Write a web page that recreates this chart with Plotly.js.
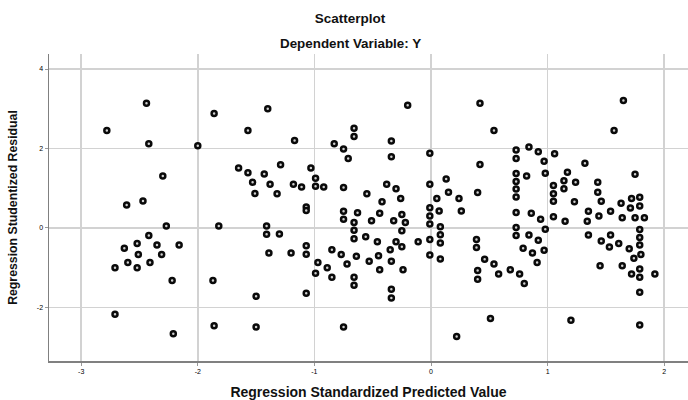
<!DOCTYPE html>
<html>
<head>
<meta charset="utf-8">
<script src="https://cdn.plot.ly/plotly-3.0.1.min.js"></script>
<style>html,body{margin:0;padding:0;background:#fff;}#chart{width:688px;height:400px;}</style>
</head>
<body>
<div id="chart"></div>
<script>
// Regression standardized predicted values (x) and studentized residuals (y)
const predicted = [
  -2.44,-2.78,-2.42,-2.00,-1.86,-1.57,-1.40,-2.30,-2.61,-2.47,-1.65,-1.57,-1.43,-1.53,-1.38,-1.51,
  -2.27,-1.82,-1.41,-1.41,-1.39,-2.42,-2.63,-2.52,-2.35,-2.16,-2.51,-2.31,-2.60,-2.41,-2.71,-2.52,-2.22,-1.87,-1.50,-2.71,-2.21,-1.86,-1.50,
  -1.17,-0.83,-0.75,-0.71,-0.66,-0.66,-0.20,-0.34,-0.34,-0.01,0.42,-1.29,-1.32,-1.18,-1.11,-1.03,-0.99,-0.99,-0.92,-0.75,-1.07,-1.07,
  -0.55,-0.38,-0.30,-0.26,-0.42,-0.01,0.13,0.15,0.05,0.24,0.40,-0.75,-0.63,-0.44,-0.25,-0.01,0.07,0.26,0.42,
  -0.75,-1.30,-1.20,-1.07,-1.07,-1.07,-0.66,-0.66,-0.66,-0.51,-0.56,-0.32,-0.22,-0.25,-0.46,-0.30,-0.25,-0.11,-0.01,-0.01,-0.01,-0.01,
  0.08,0.08,0.08,0.08,-0.85,-0.77,-0.64,-0.35,-0.45,-0.53,-0.34,-0.97,-0.72,-0.89,-0.99,-0.85,-0.66,-0.66,-0.44,-0.24,-0.34,-0.34,
  -0.75,0.22,0.39,0.39,0.40,0.40,
  0.54,1.65,1.57,0.73,0.73,0.84,0.92,1.06,0.97,0.98,1.32,0.73,0.82,0.73,0.73,0.73,0.73,0.86,1.17,1.14,1.14,1.24,1.05,1.05,1.05,1.23,
  1.43,1.43,1.46,1.75,1.72,1.79,1.71,1.79,1.63,1.54,1.35,
  0.94,1.05,1.15,1.34,1.44,1.64,1.75,1.83,0.73,0.73,0.98,0.84,0.92,0.79,0.87,0.97,0.91,0.46,0.54,0.58,0.68,0.76,0.80,
  1.35,1.46,1.54,1.53,1.61,1.70,1.74,1.79,1.79,1.79,1.80,1.45,1.64,1.72,1.79,1.79,1.92,1.79,0.51,1.20,1.79
];
const residual = [
  3.14,2.45,2.12,2.07,2.88,2.45,3.00,1.31,0.58,0.68,1.51,1.39,1.36,1.15,1.10,0.87,
  0.05,0.05,0.05,-0.16,-0.63,-0.19,-0.51,-0.39,-0.43,-0.43,-0.67,-0.67,-0.87,-0.87,-1.00,-1.00,-1.32,-1.32,-1.72,-2.17,-2.66,-2.46,-2.49,
  2.20,2.12,1.99,1.75,2.51,2.30,3.09,2.19,1.79,1.88,3.14,1.59,0.86,1.10,1.03,1.51,1.25,1.05,1.03,1.02,0.53,0.44,
  0.86,1.10,0.99,0.74,0.66,1.10,1.23,0.90,0.74,0.74,0.89,0.42,0.38,0.37,0.34,0.51,0.43,0.43,1.60,
  0.22,-0.15,-0.63,-0.45,-0.66,-1.64,0.14,-0.06,-0.27,0.18,-0.22,0.18,0.14,-0.07,-0.35,-0.35,-0.47,-0.35,0.30,0.10,-0.29,-0.68,
  0.03,-0.17,-0.38,-0.78,-0.55,-0.67,-0.71,-0.55,-0.70,-0.84,-0.84,-0.87,-0.91,-1.00,-1.14,-1.24,-1.24,-1.44,-1.05,-1.05,-1.54,-1.76,
  -2.49,-2.73,-0.29,-0.49,-1.07,-1.29,
  2.45,3.21,2.45,1.96,1.75,2.04,1.92,1.87,1.68,1.38,1.63,1.37,1.31,1.17,0.98,0.78,0.39,0.37,1.40,1.19,0.99,1.15,1.07,0.86,0.67,0.66,
  1.15,0.90,0.67,1.35,0.74,0.77,0.50,0.55,0.62,0.42,0.42,
  0.22,0.28,0.17,0.17,0.30,0.26,0.26,0.26,0.01,-0.19,-0.03,-0.18,-0.31,-0.51,-0.63,-0.56,-0.87,-0.79,-0.91,-1.16,-1.05,-1.16,-1.40,
  -0.18,-0.33,-0.18,-0.48,-0.39,-0.52,-0.76,-0.04,-0.24,-0.43,-0.67,-0.95,-0.95,-1.16,-1.03,-1.24,-1.16,-1.62,-2.28,-2.32,-2.44
];
const xTicks = [-3,-2,-1,0,1,2];
const xTickLabels = ['-3','-2','-1','0','1','2'];
const yTicks = [-2,0,2,4];
const yTickLabels = ['-2','0','2','4'];

const trace = {
  type: 'scatter', mode: 'markers',
  x: predicted, y: residual,
  marker: {symbol: 'circle', size: 5, color: '#d0d0d0', line: {color: '#0a0a0a', width: 2.5}},
  hoverinfo: 'x+y', showlegend: false
};

const font = 'Liberation Sans, Arial, sans-serif';
const layout = {
  width: 688, height: 400,
  margin: {l: 49, r: 0, t: 54, b: 39, pad: 0},
  paper_bgcolor: '#fff', plot_bgcolor: '#fff',
  font: {family: font, color: '#222'},
  title: {text: '<b>Scatterplot</b>', font: {family: font, size: 13.5, color: '#111'},
          x: 350/688, xref: 'container', xanchor: 'center', y: 1 - 18/400, yref: 'container', yanchor: 'middle'},
  xaxis: {
    range: [-3.276, 2.204], tickvals: xTicks, ticktext: xTickLabels,
    showgrid: true, gridcolor: '#d2d2d2', gridwidth: 1.5, zeroline: false,
    showline: true, linecolor: '#808080', linewidth: 1.5,
    ticks: 'outside', ticklen: 3, tickcolor: '#999', tickfont: {size: 7, color: '#000'},
    title: {text: '<b>Regression Standardized Predicted Value</b>', font: {family: font, size: 14, color: '#111'}, standoff: 15}
  },
  yaxis: {
    range: [-3.348, 4.378], tickvals: yTicks, ticktext: yTickLabels,
    showgrid: true, gridcolor: '#d2d2d2', gridwidth: 1.5, zeroline: false,
    showline: true, linecolor: '#808080', linewidth: 1.5,
    ticks: 'outside', ticklen: 3, tickcolor: '#999', tickfont: {size: 7, color: '#000'},
    title: {text: '<b>Regression Studentized Residual</b>', font: {family: font, size: 12.3, color: '#111'}, standoff: 16}
  },
  annotations: [{
    text: '<b>Dependent Variable: Y</b>', xref: 'paper', yref: 'paper',
    x: (350-49)/639, y: (360.7-44)/306.7, xanchor: 'center', yanchor: 'middle',
    showarrow: false, font: {family: font, size: 13.4, color: '#111'}
  }]
};

Plotly.newPlot('chart', [trace], layout, {displayModeBar: false, staticPlot: true});
</script>
</body>
</html>
